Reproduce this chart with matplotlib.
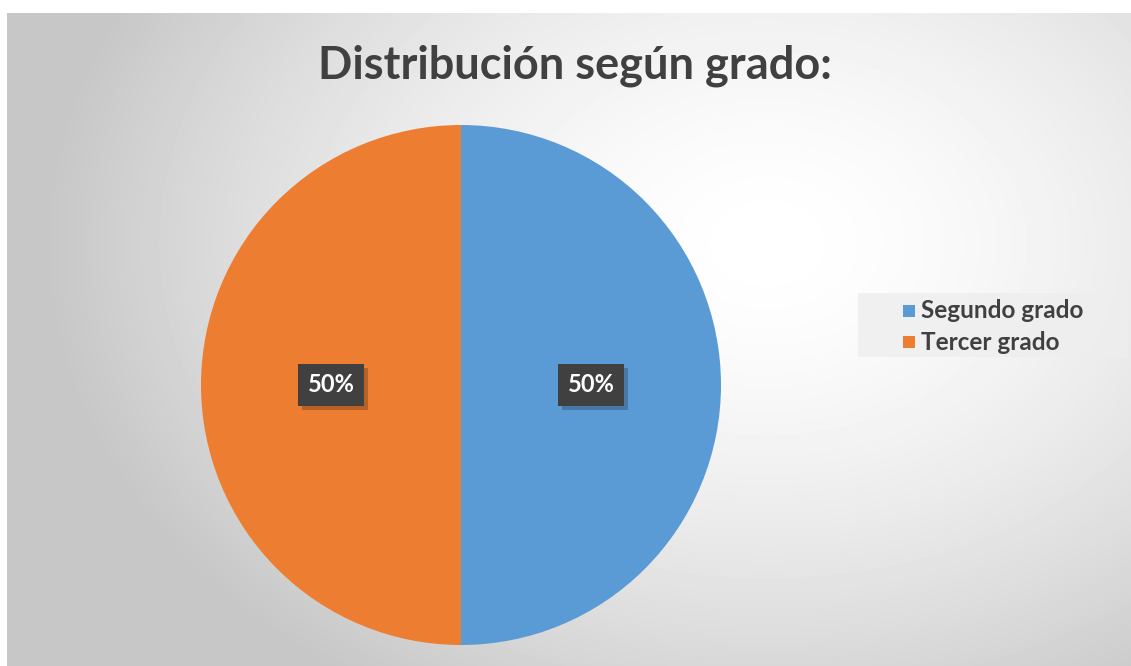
import numpy as np
import matplotlib.pyplot as plt
import matplotlib.patheffects as pe
from matplotlib.patches import Rectangle

labels = ["Segundo grado", "Tercer grado"]
values = [50, 50]
colors = ["#5B9BD5", "#ED7D31"]
title = "Distribución según grado:"

W, H = 1131, 666
fig = plt.figure(figsize=(W / 100, H / 100), dpi=100)
fig.patch.set_facecolor("white")

# radial background of the chart area
bg = fig.add_axes([7 / W, 0, 1 - 7 / W, 1 - 13 / H])
bg.set_axis_off()
yy, xx = np.mgrid[0:653, 0:1124]
d = np.hypot((xx - 760) / 760.0, (yy - 230) / 560.0)
shade = np.clip(1.0 - 0.24 * d ** 1.6, 0.78, 1.0)
bg.imshow(shade, cmap="gray", vmin=0, vmax=1, aspect="auto",
          extent=[0, 1, 0, 1], origin="upper")
bg.set_xlim(0, 1)
bg.set_ylim(0, 1)

fig.text(575 / W, 1 - 66 / H, title, ha="center", va="center",
         fontsize=32.5, fontweight="bold", color="#404040", family="Lato")

# pie
r = 260
ax = fig.add_axes([(461 - r) / W, (H - 385 - r) / H, 2 * r / W, 2 * r / H])
ax.set_axis_off()
wedges, _ = ax.pie(values, colors=colors, startangle=90, counterclock=False,
                   radius=1)
ax.set_xlim(-1, 1)
ax.set_ylim(-1, 1)
ax.set_aspect("auto")

for w, v in zip(wedges, values):
    ang = np.deg2rad((w.theta1 + w.theta2) / 2)
    x, y = 0.5 * np.cos(ang), 0.5 * np.sin(ang)
    t = ax.text(x, y, f"{v}%", ha="center", va="center", fontsize=17,
                fontweight="bold", color="white", family="Lato",
                bbox=dict(boxstyle="square,pad=0.4", fc="#404040", ec="none"))
    t.get_bbox_patch().set_path_effects([
        pe.SimplePatchShadow(offset=(3, -3), shadow_rgbFace="black", alpha=0.22),
        pe.Normal()])

# legend
fig.patches.append(Rectangle((858 / W, 1 - 357 / H), 270 / W, 64 / H,
                             transform=fig.transFigure, fc="#eeeeee",
                             ec="none", alpha=0.8))
for i, (lab, c) in enumerate(zip(labels, colors)):
    yc = 311 + i * 31
    fig.patches.append(Rectangle((903 / W, 1 - (yc + 6) / H), 12 / W, 12 / H,
                                 transform=fig.transFigure, fc=c, ec="none"))
    fig.text(921 / W, 1 - yc / H, lab, ha="left", va="center", fontsize=17.5,
             fontweight="bold", color="#404040", family="Lato")

fig.savefig("out.png", dpi=100)
